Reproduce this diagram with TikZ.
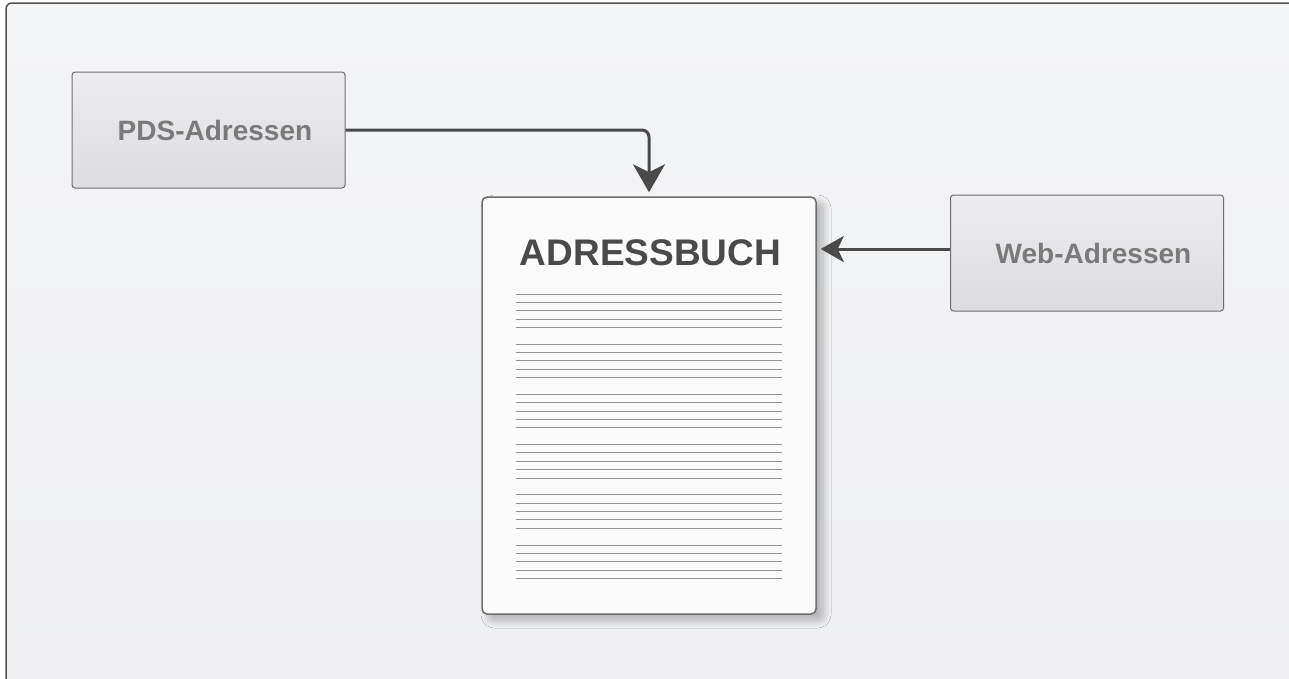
\documentclass[tikz,border=0pt]{standalone}
\usepackage{fontspec}
\setmainfont{Liberation Sans}
\usetikzlibrary{arrows.meta, shadows.blur}
\definecolor{rahmen}{HTML}{505050}
\definecolor{pfeil}{HTML}{4A4A4A}
\definecolor{kastenrand}{HTML}{6E6E6E}
\definecolor{kastentext}{HTML}{7A7A7A}
\definecolor{zeile}{HTML}{959595}
\tikzset{
  quelle/.style = {draw = kastenrand, line width = 1pt, rounded corners = 3pt,
    top color = {rgb,255:red,237;green,237;blue,239}, bottom color = {rgb,255:red,220;green,220;blue,225},
    minimum width = 273pt, minimum height = 116pt, inner sep = 0pt,
    text = kastentext, font = \fontsize{28}{30}\selectfont\bfseries,
    execute at begin node = \hspace*{13pt}},
  fluss/.style = {pfeil, line width = 3pt, shorten > = 4pt}
}

\begin{document}
\begin{tikzpicture}[x = 1pt, y = -1pt]
    \useasboundingbox (0,0) rectangle (1289,678);
    % Hintergrund
    \draw[rahmen, line width = 1.5pt, rounded corners = 6pt, top color = {rgb,255:red,244;green,245;blue,247}, bottom color = {rgb,255:red,239;green,239;blue,241}] (6,3) rectangle (1295,690);
    % Adressbuch
    \node[draw = kastenrand, line width = 1.5pt, rounded corners = 5pt, fill = {rgb,255:red,251;green,251;blue,251},
      minimum width = 334pt, minimum height = 417pt, inner sep = 0pt,
      blur shadow = {shadow xshift = 7pt, shadow yshift = -6pt, shadow blur radius = 8pt, shadow blur steps = 12, shadow opacity = 28}]
      (book) at (649,405.5) {};
    \node[anchor = base, text = pfeil, font = \fontsize{37}{40}\selectfont\bfseries, inner sep = 0pt] (titel) at (650.5,265) {ADRESSBUCH};
    \foreach \g in {0,...,5}
      \foreach \l in {0,...,4}
        \draw[zeile, line width = 1pt] (516,294+50.2*\g+8.35*\l) -- (782,294+50.2*\g+8.35*\l);
    % Quellen
    \node[quelle] (pds) at (208.5,130) {PDS-Adressen};
    \node[quelle] (web) at (1087,253) {Web-Adressen};
    % Pfeile
    \draw[fluss, rounded corners = 7pt, -{Stealth[length = 28pt, width = 32pt, inset = 8pt]}] (pds.east) -| (book.north);
    \draw[fluss, -{Stealth[length = 23pt, width = 26pt, inset = 6pt]}] ([yshift = 4pt]web.west) -- ([yshift = 4pt]web.west -| book.east);
\end{tikzpicture}
\end{document}
